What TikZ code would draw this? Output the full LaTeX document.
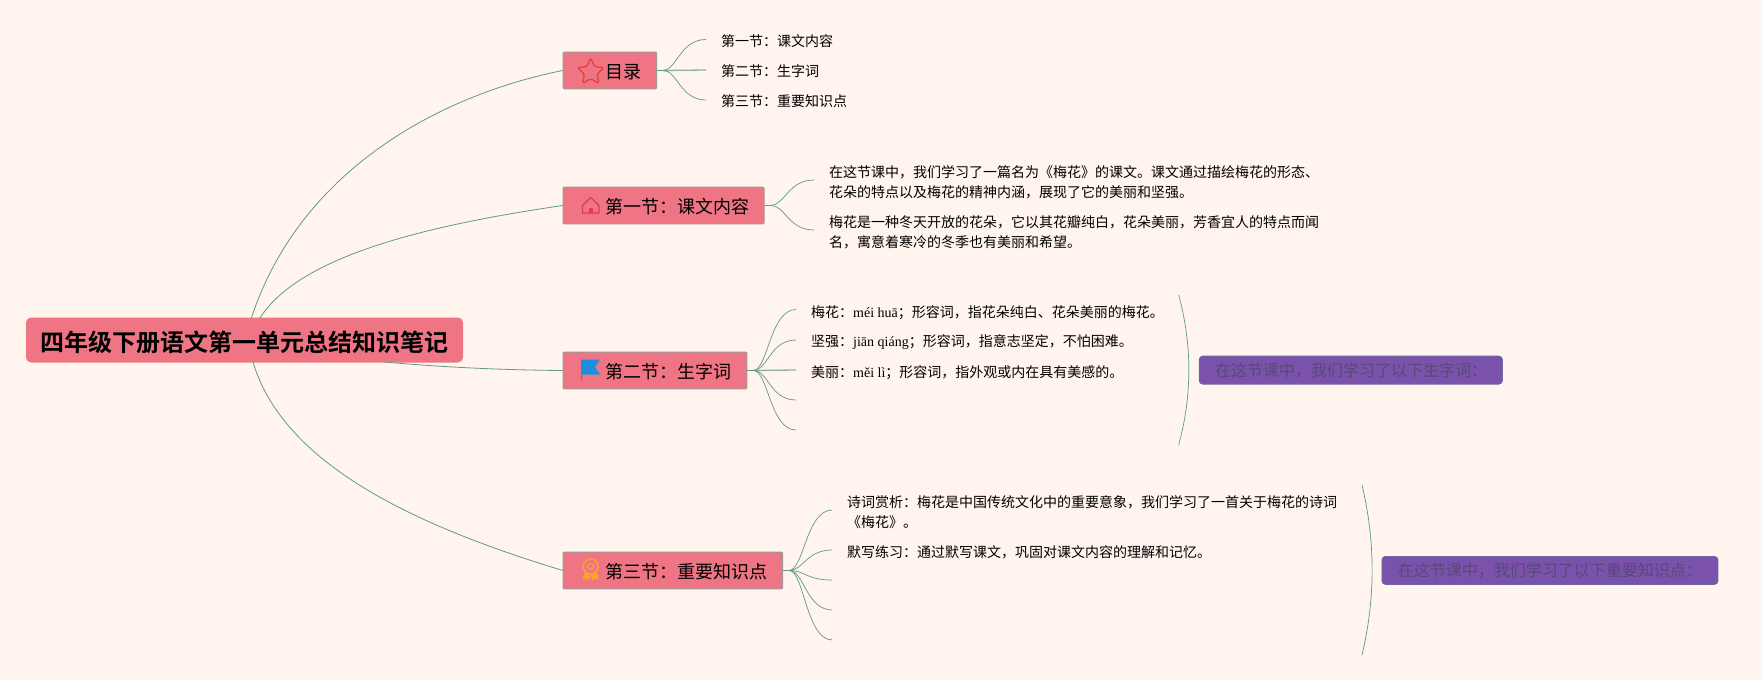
\documentclass[tikz,border=0pt]{standalone}
\usepackage{fontspec}
\setmainfont{Noto Sans CJK SC}[BoldFont={Noto Sans CJK SC Bold}]
\newfontfamily\latinf{Liberation Serif}
\newcommand{\latn}[1]{{\latinf #1}}
\usetikzlibrary{shapes.geometric}
\definecolor{bgc}{HTML}{FFF4EE}
\definecolor{pinkc}{HTML}{EF7585}
\definecolor{edgec}{HTML}{9A9A9A}
\definecolor{linec}{HTML}{5F9B83}
\definecolor{purplec}{HTML}{7B52AB}
\definecolor{purpleedge}{HTML}{6A6A9E}
\definecolor{purpletext}{HTML}{564A78}
\definecolor{starc}{HTML}{EE3B36}
\definecolor{housec}{HTML}{E23A5C}
\definecolor{flagc}{HTML}{1A90DC}
\definecolor{badgec}{HTML}{F7A528}
\tikzset{
  rootbox/.style={draw=none,fill=pinkc,rounded corners=5pt,inner sep=0pt,minimum width=437pt,minimum height=45pt,text height=22pt,text depth=0pt,anchor=north west,font=\fontsize{24}{28}\selectfont\bfseries,text=black},
  secbox/.style={draw=edgec,line width=1pt,fill=pinkc,rounded corners=1pt,inner sep=0pt,minimum height=36.6pt,text height=16pt,text depth=0pt,anchor=north west,font=\fontsize{18}{22}\selectfont,text=black},
  purplebox/.style={draw=purpleedge,line width=.8pt,fill=purplec,rounded corners=3.5pt,inner sep=0pt,minimum height=28pt,anchor=north west,font=\fontsize{16}{20}\selectfont,text=purpletext},
  leaf/.style={anchor=west,inner sep=0pt,align=left,font=\fontsize{14}{20}\selectfont,text=black},
  main/.style={draw=linec,line width=.8pt},
  twig/.style={draw=linec,line width=.7pt},
  stem/.style={draw=linec,line width=1.5pt},
  flat/.style={draw=linec!75!white,line width=1.3pt},
  brace/.style={draw=linec,line width=.7pt},
}
\begin{document}
\begin{tikzpicture}[x=1pt,y=-1pt]
\useasboundingbox[fill=bgc] (0,0) rectangle (1762,680);

% connectors below the boxes
\coordinate (rA) at (251.4,318);
\coordinate (rB) at (260,318);
\coordinate (rC) at (384.6,362);
\coordinate (rD) at (253,362);

% root and sections
\node[rootbox] (root) at (25.8,317.3) {\makebox[437pt][l]{\hspace{14.5pt}四年级下册语文第一单元总结知识笔记}};
\node[secbox] (toc) at (562.7,51.7) {\makebox[93.3pt][l]{\hspace{42pt}目录}};
\node[secbox] (s1) at (562.7,186.7) {\makebox[201pt][l]{\hspace{42.7pt}第一节：课文内容}};
\node[secbox] (s2) at (562.7,351.7) {\makebox[183.6pt][l]{\hspace{42.7pt}第二节：生字词}};
\node[secbox] (s3) at (562.7,551.7) {\makebox[219.3pt][l]{\hspace{42.7pt}第三节：重要知识点}};

\draw[main] (rA) .. controls (300,170) and (440,95) .. (toc.west);
\draw[main] (rB) .. controls (300,255) and (430,225) .. (s1.west);
\draw[main] (rC) .. controls (440,367) and (500,370) .. (s2.west);
\draw[main] (rD) .. controls (285,470) and (430,530) .. (s3.west);

% leaf ends
\coordinate (t1) at (706,39.5);
\coordinate (t2) at (706,70);
\coordinate (t3) at (706,100);
\coordinate (a1) at (814,180);
\coordinate (a2) at (814,230);
\coordinate (b1) at (796,309.5);
\coordinate (b2) at (796,340);
\coordinate (b3) at (796,370);
\coordinate (b4) at (796,400);
\coordinate (b5) at (796,430);
\coordinate (c1) at (832.4,510);
\coordinate (c2) at (832.4,550);
\coordinate (c3) at (832.4,580);
\coordinate (c4) at (832.4,610);
\coordinate (c5) at (832.4,640);

% toc branches
\draw[stem] (toc.east) -- ++(6,0) coordinate (tocs);
\draw[twig] (tocs) .. controls (677,70) and (680,39.5) .. (t1);
\draw[flat] (tocs) -- (t2);
\draw[twig] (tocs) .. controls (677,70) and (680,100) .. (t3);
% s1 branches
\draw[stem] (s1.east) -- ++(6,0) coordinate (s1s);
\draw[twig] (s1s) .. controls (785,205) and (788,180) .. (a1);
\draw[twig] (s1s) .. controls (785,205) and (788,230) .. (a2);
% s2 branches
\draw[stem] (s2.east) -- ++(6,0) coordinate (s2s);
\draw[twig] (s2s) .. controls (768,370) and (770,309.5) .. (b1);
\draw[twig] (s2s) .. controls (768,370) and (770,340) .. (b2);
\draw[flat] (s2s) -- (b3);
\draw[twig] (s2s) .. controls (768,370) and (770,400) .. (b4);
\draw[twig] (s2s) .. controls (768,370) and (770,430) .. (b5);
% s3 branches
\draw[stem] (s3.east) -- ++(6,0) coordinate (s3s);
\draw[twig] (s3s) .. controls (804,570) and (806,510) .. (c1);
\draw[twig] (s3s) .. controls (804,570) and (806,550) .. (c2);
\draw[twig] (s3s) .. controls (804,570) and (806,580) .. (c3);
\draw[twig] (s3s) .. controls (804,570) and (806,610) .. (c4);
\draw[twig] (s3s) .. controls (804,570) and (806,640) .. (c5);

% leaves
\node[leaf] (lt1) at (721,41.5) {第一节：课文内容};
\node[leaf] (lt2) at (721,71.5) {第二节：生字词};
\node[leaf] (lt3) at (721,101.5) {第三节：重要知识点};
\node[leaf] (la1) at (829,182) {在这节课中，我们学习了一篇名为《梅花》的课文。课文通过描绘梅花的形态、\\花朵的特点以及梅花的精神内涵，展现了它的美丽和坚强。};
\node[leaf] (la2) at (829,232) {梅花是一种冬天开放的花朵，它以其花瓣纯白，花朵美丽，芳香宜人的特点而闻\\名，寓意着寒冷的冬季也有美丽和希望。};
\node[leaf] (lb1) at (811,312.5) {梅花：\latn{méi huā}；形容词，指花朵纯白、花朵美丽的梅花。};
\node[leaf] (lb2) at (811,342.5) {坚强：\latn{jiān qiáng}；形容词，指意志坚定，不怕困难。};
\node[leaf] (lb3) at (811,372.5) {美丽：\latn{měi lì}；形容词，指外观或内在具有美感的。};
\node[leaf] (lc1) at (847,512) {诗词赏析：梅花是中国传统文化中的重要意象，我们学习了一首关于梅花的诗词\\《梅花》。};
\node[leaf] (lc2) at (847,552.5) {默写练习：通过默写课文，巩固对课文内容的理解和记忆。};

% summaries
\coordinate (br1a) at (1178.7,295);
\coordinate (br1b) at (1178.7,445);
\coordinate (br2a) at (1362,485);
\coordinate (br2b) at (1362,655);
\draw[brace] (br1a) .. controls (1192.2,345) and (1192.2,395) .. (br1b);
\draw[brace] (br2a) .. controls (1375.5,542) and (1375.5,598) .. (br2b);
\node[purplebox] (p1) at (1198.8,355.7) {\makebox[303.2pt][l]{\hspace{16pt}在这节课中，我们学习了以下生字词：}};
\node[purplebox] (p2) at (1381.5,556) {\makebox[336pt][l]{\hspace{16pt}在这节课中，我们学习了以下重要知识点：}};

% icons
\node[star,star points=5,star point ratio=2.1,draw=starc,line width=1.3pt,rounded corners=1.5pt,inner sep=0pt,minimum size=28pt,fill=none] (istar) at (590.7,72) {};
\draw[housec,line width=1.3pt,line join=round] (582.5,205.5) -- (590.7,197.5) -- (598.9,205.5) -- (598.9,213) -- (582.5,213) -- cycle;
\fill[housec] (588.5,213) -- (588.5,207.5) -- (592.9,207.5) -- (592.9,213) -- cycle;
\fill[flagc] (581,359.5) -- (600,359.5) -- (595,367) -- (600,374.5) -- (582,374.5) -- (582,380) -- (581,380) -- cycle;
\draw[badgec,line width=1.4pt] (590.7,566.5) circle (7.5pt);
\draw[badgec,line width=1.2pt] (590.7,566.5) circle (3pt);
\fill[badgec] (584.5,572.5) -- (582.5,580) -- (586,578.5) -- (589,580.5) -- (590.7,575) -- (592.4,580.5) -- (595.4,578.5) -- (598.9,580) -- (596.9,572.5) -- (590.7,575) -- cycle;
\end{tikzpicture}
\end{document}
